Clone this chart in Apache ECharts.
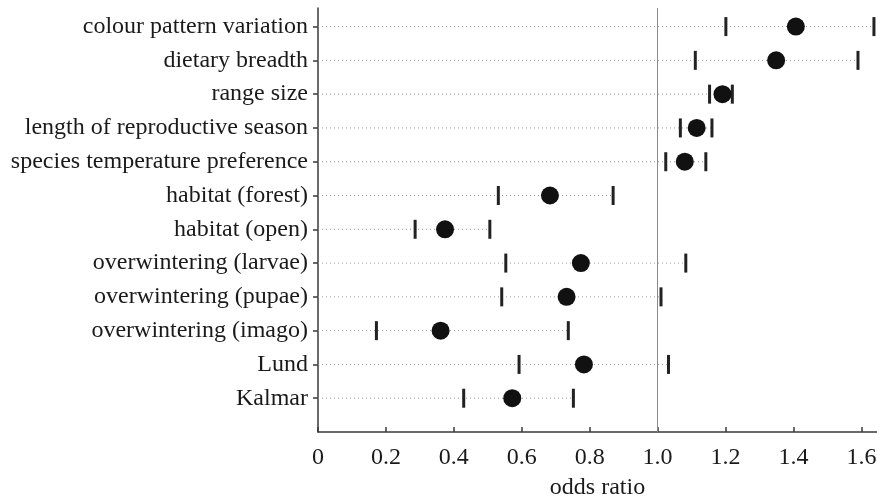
<!DOCTYPE html>
<html>
<head>
<meta charset="utf-8">
<script src="https://cdn.jsdelivr.net/npm/echarts@6/dist/echarts.min.js"></script>
<style>html,body{margin:0;padding:0;background:#fff;}#chart{width:877px;height:502px;}</style>
</head>
<body>
<div id="chart"></div>
<script>
// Categories, top to bottom
const categories = [
  'colour pattern variation',
  'dietary breadth',
  'range size',
  'length of reproductive season',
  'species temperature preference',
  'habitat (forest)',
  'habitat (open)',
  'overwintering (larvae)',
  'overwintering (pupae)',
  'overwintering (imago)',
  'Lund',
  'Kalmar'
];
const oddsRatio = [1.407, 1.349, 1.191, 1.115, 1.080, 0.683, 0.374, 0.774, 0.732, 0.361, 0.783, 0.572];
const lowerCI   = [1.201, 1.111, 1.153, 1.067, 1.024, 0.531, 0.286, 0.553, 0.541, 0.172, 0.592, 0.429];
const upperCI   = [1.637, 1.590, 1.220, 1.160, 1.142, 0.869, 0.506, 1.083, 1.010, 0.737, 1.032, 0.752];
const xTicks = [0, 0.2, 0.4, 0.6, 0.8, 1.0, 1.2, 1.4, 1.6];

const n = categories.length;
// row position: top row = n, bottom row = 1
const rowPos = categories.map((c, i) => n - i);

const FONT = '"Liberation Serif", "DejaVu Serif", serif';
const TEXT = '#1a1a1a';

const chart = echarts.init(document.getElementById('chart'), null, {renderer: 'canvas'});

const guideData = categories.map((c, i) => [upperCI[i], rowPos[i]]);
const lowData = categories.map((c, i) => [lowerCI[i], rowPos[i]]);
const upData = categories.map((c, i) => [upperCI[i], rowPos[i]]);
const ptData = categories.map((c, i) => [oddsRatio[i], rowPos[i]]);

chart.setOption({
  animation: false,
  backgroundColor: '#fff',
  grid: {left: 318, right: 0, top: 8, bottom: 70, containLabel: false, outerBoundsMode: 'none'},
  xAxis: {
    type: 'value',
    min: 0,
    max: 1.646,
    name: 'odds ratio',
    nameLocation: 'middle',
    nameGap: 44,
    nameTextStyle: {fontFamily: FONT, fontSize: 24, color: TEXT},
    splitLine: {show: false},
    axisLine: {show: true, onZero: false, lineStyle: {color: '#3a3a3a', width: 1.5}},
    axisTick: {show: true, inside: true, length: 5, customValues: xTicks, lineStyle: {color: '#3a3a3a', width: 1.5}},
    axisLabel: {
      customValues: xTicks,
      margin: 14,
      fontFamily: FONT, fontSize: 24, color: TEXT,
      formatter: v => (Math.abs(v) < 1e-9 ? '0' : v.toFixed(1))
    }
  },
  yAxis: {
    type: 'value',
    min: 0,
    max: 12.55,
    splitLine: {show: false},
    axisLine: {show: true, onZero: false, lineStyle: {color: '#3a3a3a', width: 1.5}},
    axisTick: {show: true, length: 5, customValues: rowPos, lineStyle: {color: '#3a3a3a', width: 1.5}},
    axisLabel: {
      customValues: rowPos,
      margin: 10,
      fontFamily: FONT, fontSize: 24, color: TEXT,
      formatter: v => categories[n - Math.round(v)]
    }
  },
  series: [
    {
      type: 'custom',
      name: 'guide',
      data: guideData,
      silent: true,
      z: 1,
      renderItem: function (params, api) {
        const p0 = api.coord([0, api.value(1)]);
        const p1 = api.coord([api.value(0), api.value(1)]);
        return {
          type: 'line',
          shape: {x1: p0[0], y1: p0[1], x2: p1[0], y2: p1[1]},
          style: {stroke: '#9a9a9a', lineWidth: 1, lineDash: [1, 3]}
        };
      },
      markLine: {
        silent: true,
        symbol: ['none', 'none'],
        label: {show: false},
        lineStyle: {color: '#8a8a8a', width: 1, type: 'solid'},
        data: [{xAxis: 1.0}]
      }
    },
    {
      type: 'scatter',
      name: 'lower',
      data: lowData,
      symbol: 'rect',
      symbolSize: [3, 19],
      itemStyle: {color: '#222', opacity: 1},
      z: 3
    },
    {
      type: 'scatter',
      name: 'upper',
      data: upData,
      symbol: 'rect',
      symbolSize: [3, 19],
      itemStyle: {color: '#222', opacity: 1},
      z: 3
    },
    {
      type: 'scatter',
      name: 'odds',
      data: ptData,
      symbol: 'circle',
      symbolSize: 18,
      itemStyle: {color: '#111', opacity: 1},
      z: 4
    }
  ]
});
</script>
</body>
</html>
